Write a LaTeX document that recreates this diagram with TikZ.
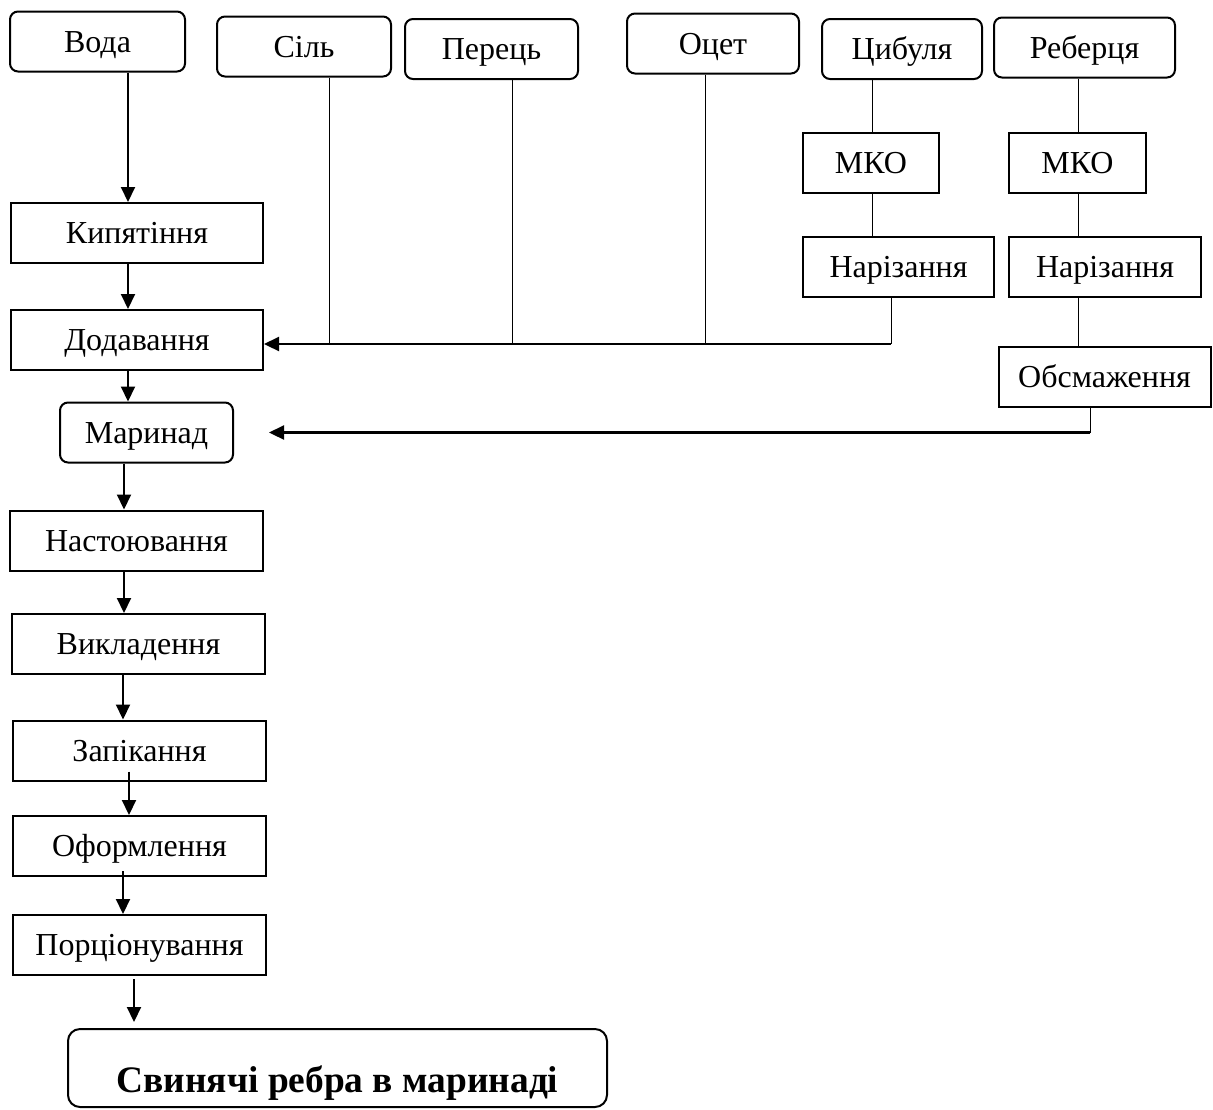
\documentclass[tikz,border=0pt]{standalone}
\usepackage{fontspec}
\setmainfont{Liberation Serif}
\usetikzlibrary{arrows.meta}

\begin{document}
\begin{tikzpicture}[x=0.5pt, y=-0.5pt,
  font=\fontsize{16}{19}\selectfont,
  stepbox/.style={draw, line width=1pt, minimum height=30pt, inner sep=0pt,
    text height=10.6pt, text depth=0pt},
  srcbox/.style={stepbox, rounded corners=4pt},
  arr/.style={line width=1pt, -{Triangle[length=7.5pt,width=7pt]}},
  feed/.style={line width=0.5pt},
  busline/.style={arr, line width=1.1pt}]
  \useasboundingbox (0,0) rectangle (1213,1109);

  % raw materials
  \node[srcbox, minimum width=87.5pt] (voda) at (97.5,41.5) {Вода};
  \node[srcbox, minimum width=87pt] (sil) at (304,46.5) {Сіль};
  \node[srcbox, minimum width=86.5pt] (per) at (491.5,49) {Перець};
  \node[srcbox, minimum width=86pt] (ocet) at (713,43.5) {Оцет};
  \node[srcbox, minimum width=80pt] (cyb) at (902,49) {Цибуля};
  \node[srcbox, minimum width=90.5pt] (reb) at (1084.5,47.5) {Реберця};

  % side branches
  \node[stepbox, minimum width=68pt] (mko1) at (871,163) {МКО};
  \node[stepbox, minimum width=68.5pt] (mko2) at (1077.5,163) {МКО};
  \node[stepbox, minimum width=95.5pt] (nar1) at (898.5,267) {Нарізання};
  \node[stepbox, minimum width=96pt] (nar2) at (1105,267) {Нарізання};
  \node[stepbox, minimum width=106pt] (obs) at (1104.5,376.5) {Обсмаження};

  % main line
  \node[stepbox, minimum width=126pt] (kip) at (137,233) {Кипятіння};
  \node[stepbox, minimum width=126pt] (dod) at (137,340) {Додавання};
  \node[srcbox, minimum width=86.5pt] (mar) at (146.5,432.5) {Маринад};
  \node[stepbox, minimum width=126.5pt] (nast) at (136.5,540.5) {Настоювання};
  \node[stepbox, minimum width=126.5pt] (vykl) at (138.5,644) {Викладення};
  \node[stepbox, minimum width=126.5pt] (zap) at (139.5,750.5) {Запікання};
  \node[stepbox, minimum width=126.5pt] (oform) at (139.5,846) {Оформлення};
  \node[stepbox, minimum width=126.5pt] (porc) at (139.5,945) {Порціонування};
  \node[srcbox, rounded corners=6pt, minimum width=269.5pt, minimum height=39pt,
    text height=24pt, font=\fontsize{18.7}{22}\selectfont\bfseries] (fin) at (337.5,1068) {Свинячі ребра в маринаді};

  \coordinate (bus) at ([yshift=-2pt]dod.east);
  \coordinate (marin) at ([xshift=17.5pt]mar.east);

  \draw[arr] (voda.south -| 128,0) -- (kip.north -| 128,0);
  \draw[arr] (kip.south -| 128,0) -- (dod.north -| 128,0);
  \draw[arr] (dod.south -| 128,0) -- (mar.north -| 128,0);
  \draw[arr] (mar.south -| 124,0) -- (nast.north -| 124,0);
  \draw[arr] (nast.south -| 124,0) -- (vykl.north -| 124,0);
  \draw[arr] (vykl.south -| 123,0) -- (zap.north -| 123,0);
  \draw[arr] (zap.south -| 129,0) ++(0,-10) -- (oform.north -| 129,0);
  \draw[arr] (oform.south -| 123,0) ++(0,-6) -- (porc.north -| 123,0);
  \draw[arr, shorten <=1.5pt, shorten >=3pt] (porc.south -| 134,0) -- (fin.north -| 134,0);

  \draw[feed] (sil.south -| 329,0) -- (bus -| 329,0);
  \draw[feed] (per.south -| 512,0) -- (bus -| 512,0);
  \draw[feed] (ocet.south -| 705,0) -- (bus -| 705,0);
  \draw[feed] (cyb.south -| 872,0) -- (mko1.north -| 872,0);
  \draw[feed] (mko1.south -| 872,0) -- (nar1.north -| 872,0);
  \draw[feed] (nar1.south -| 891,0) -- (bus -| 891,0);
  \draw[busline] (bus -| 891,0) -- (bus);

  \draw[feed] (reb.south -| 1078,0) -- (mko2.north -| 1078,0);
  \draw[feed] (mko2.south -| 1078,0) -- (nar2.north -| 1078,0);
  \draw[feed] (nar2.south -| 1078,0) -- (obs.north -| 1078,0);
  \draw[feed] (obs.south -| 1090,0) -- (marin -| 1090,0);
  \draw[busline] (marin -| 1090,0) -- (marin);
\end{tikzpicture}
\end{document}
